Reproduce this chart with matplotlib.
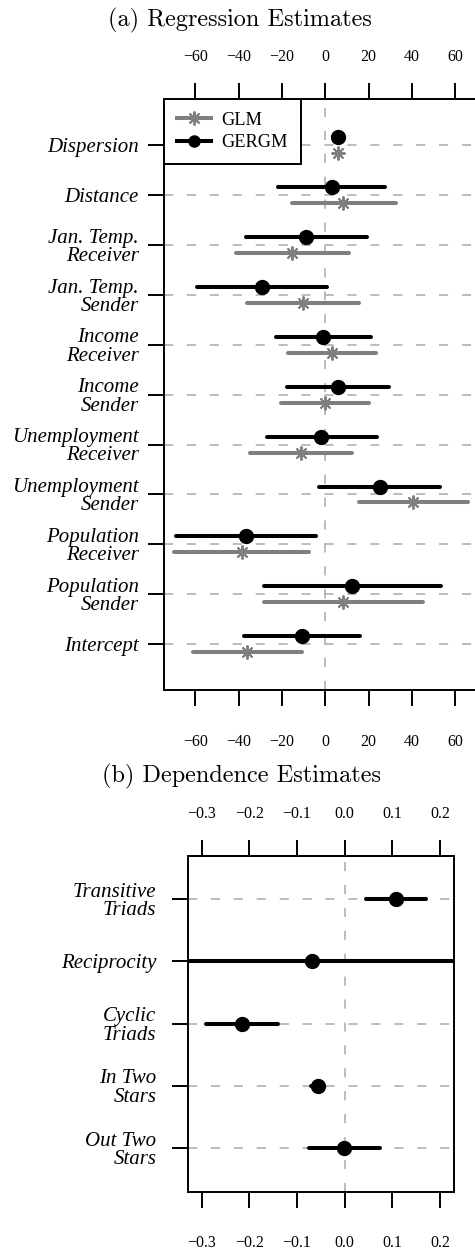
import matplotlib
matplotlib.use("Agg")
import matplotlib.pyplot as plt
from matplotlib.lines import Line2D

# regression estimates (top to bottom)
reg_labels = ['Dispersion', 'Distance', 'Jan. Temp.\nReceiver', 'Jan. Temp.\nSender',
              'Income\nReceiver', 'Income\nSender', 'Unemployment\nReceiver',
              'Unemployment\nSender', 'Population\nReceiver', 'Population\nSender',
              'Intercept']
gergm_est = [6.0, 2.9, -8.9, -29.0, -1.2, 6.0, -2.0, 25.2, -36.5, 12.4, -10.9]
gergm_lo = [5.6, -21.7, -36.5, -59.0, -22.7, -17.5, -27.0, -2.8, -68.8, -28.2, -37.7]
gergm_hi = [6.4, 27.5, 19.1, 0.6, 20.9, 29.5, 23.8, 52.9, -4.3, 53.3, 16.0]
glm_est = [6.0, 8.3, -15.3, -10.4, 2.9, -0.1, -11.2, 40.6, -38.5, 8.3, -36.2]
glm_lo = [5.6, -15.5, -41.2, -36.2, -17.3, -20.6, -34.7, 15.7, -69.6, -28.2, -61.1]
glm_hi = [6.4, 32.6, 10.9, 15.7, 23.2, 20.3, 12.4, 65.6, -7.4, 45.2, -10.9]
reg_ticks = [-60, -40, -20, 0, 20, 40, 60]

# dependence estimates (top to bottom)
dep_labels = ['Transitive\nTriads', 'Reciprocity', 'Cyclic\nTriads', 'In Two\nStars',
              'Out Two\nStars']
dep_est = [0.107, -0.068, -0.215, -0.057, -0.001]
dep_lo = [0.044, -0.6, -0.291, -0.071, -0.076]
dep_hi = [0.170, 0.5, -0.141, -0.043, 0.073]
dep_ticks = [-0.3, -0.2, -0.1, 0.0, 0.1, 0.2]

GRAY = '#7f7f7f'
DASH = '#aaaaaa'
SERIF = 'Liberation Serif'
W, H = 475, 1251

fig = plt.figure(figsize=(W / 100, H / 100), dpi=100)


def px_box(left, top, right, bottom):
    return [left / W, 1 - bottom / H, (right - left) / W, (bottom - top) / H]


def style_axes(ax, ticks, fmt, ypad, top_pad, bot_pad):
    for s in ax.spines.values():
        s.set_linewidth(1.4)
    ax.spines['right'].set_visible(ax.get_position().x1 <= 1)
    ax.set_xticks(ticks)
    ax.set_xticklabels([fmt(t) for t in ticks])
    ax.tick_params(axis='both', direction='out', length=11.5, width=1.4)
    ax.tick_params(axis='x', labelsize=11.5, pad=bot_pad)
    ax.tick_params(axis='y', labelsize=15, pad=ypad, right=False)
    for lab in ax.get_xticklabels():
        lab.set_fontfamily(SERIF)
    for lab in ax.get_yticklabels():
        lab.set_fontfamily(SERIF)
        lab.set_fontstyle('italic')
        lab.set_linespacing(0.95)
    sec = ax.secondary_xaxis('top')
    sec.set_xticks(ticks)
    sec.set_xticklabels([fmt(t) for t in ticks])
    sec.spines['top'].set_linewidth(1.4)
    sec.tick_params(direction='out', length=11.5, width=1.4, labelsize=11.5, pad=top_pad)
    for lab in sec.get_xticklabels():
        lab.set_fontfamily(SERIF)


def minus(s):
    return s.replace('-', '\u2212')


# ---------- (a) regression ----------
ax1 = fig.add_axes(px_box(163.7, 99, 488, 690))
n = len(reg_labels)
ys = [n - i for i in range(n)]
off = 0.16
for y in ys:
    ax1.axhline(y, color=DASH, lw=1.1, dashes=(6, 9), zorder=1)
ax1.axvline(0, color=DASH, lw=1.1, dashes=(6, 9), zorder=1)
for i, y in enumerate(ys):
    ax1.plot([gergm_lo[i], gergm_hi[i]], [y + off] * 2, color='black', lw=2.9,
             solid_capstyle='round', zorder=3)
    ax1.plot([glm_lo[i], glm_hi[i]], [y - off] * 2, color=GRAY, lw=2.9,
             solid_capstyle='round', zorder=3)
ax1.plot(gergm_est, [y + off for y in ys], 'o', color='black', ms=10, zorder=4)
ax1.plot(glm_est, [y - off for y in ys], ls='none', marker=(8, 2, 0), color=GRAY,
         ms=10, mew=1.4, zorder=4)
ax1.set_xlim(-74.5, 75)
ax1.set_ylim(0.08, 11.93)
ax1.set_yticks(ys)
ax1.set_yticklabels(reg_labels)
style_axes(ax1, reg_ticks, lambda t: minus(f'{t:d}'), 6.5, 13, 20)

handles = [Line2D([], [], color=GRAY, lw=2.9, marker=(8, 2, 0), ms=10, mew=1.4),
           Line2D([], [], color='black', lw=2.9, marker='o', ms=8)]
leg = ax1.legend(handles, ['GLM', 'GERGM'], loc='upper left', borderaxespad=0,
                 fancybox=False, edgecolor='black', framealpha=1,
                 prop={'family': SERIF, 'size': 13.2}, handlelength=1.9,
                 handletextpad=0.55, borderpad=0.7, labelspacing=0.3)
leg.get_frame().set_linewidth(1.4)
leg.set_zorder(5)

fig.text(240 / W, 1 - 20 / H, '(a) Regression Estimates', family='cmr10',
         size=17.5, ha='center', va='center')

# ---------- (b) dependence ----------
ax2 = fig.add_axes(px_box(188.3, 855.7, 454, 1191.7))
m = len(dep_labels)
ys2 = [m - i for i in range(m)]
for y in ys2:
    ax2.axhline(y, color=DASH, lw=1.1, dashes=(6, 9), zorder=1)
ax2.axvline(0, color=DASH, lw=1.1, dashes=(6, 9), zorder=1)
for i, y in enumerate(ys2):
    ax2.plot([dep_lo[i], dep_hi[i]], [y, y], color='black', lw=2.9,
             solid_capstyle='round', zorder=3)
ax2.plot(dep_est, ys2, 'o', color='black', ms=10, zorder=4)
ax2.set_xlim(-0.328, 0.229)
ax2.set_ylim(0.3, 5.7)
ax2.set_yticks(ys2)
ax2.set_yticklabels(dep_labels)
style_axes(ax2, dep_ticks, lambda t: minus(f'{t:.1f}'), 11.5, 13, 20)

fig.text(241 / W, 1 - 776 / H, '(b) Dependence Estimates', family='cmr10',
         size=17.5, ha='center', va='center')

fig.savefig('out.png', dpi=100)
